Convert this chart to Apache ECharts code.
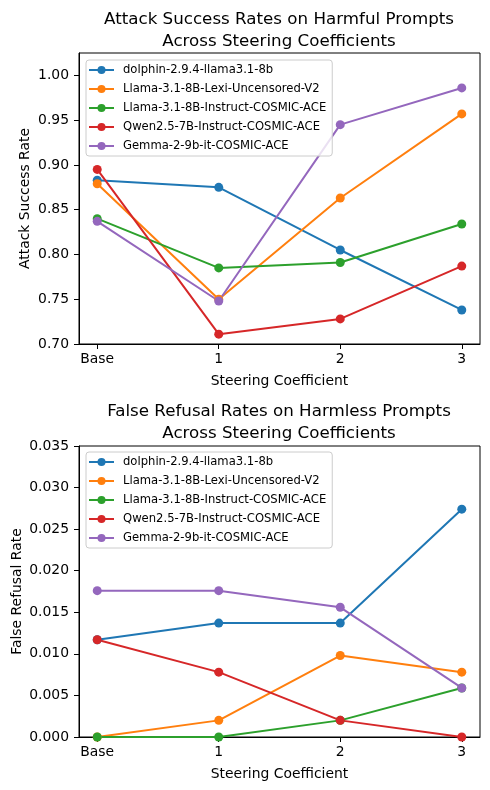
<!DOCTYPE html>
<html>
<head>
<meta charset="utf-8">
<script src="https://cdn.jsdelivr.net/npm/echarts@6/dist/echarts.min.js"></script>
<style>
  html, body { margin: 0; padding: 0; background: #fff; }
  #main { width: 490px; height: 790px; }
</style>
</head>
<body>
<div id="main"></div>
<script>
// categories on the x axis
var categories = ['Base', '1', '2', '3'];
var xPos = [0, 1, 2, 3];

var models = [
  'dolphin-2.9.4-llama3.1-8b',
  'Llama-3.1-8B-Lexi-Uncensored-V2',
  'Llama-3.1-8B-Instruct-COSMIC-ACE',
  'Qwen2.5-7B-Instruct-COSMIC-ACE',
  'Gemma-2-9b-it-COSMIC-ACE'
];
var colors = ['#1f77b4', '#ff7f0e', '#2ca02c', '#d62728', '#9467bd'];

// attack success rate (top plot)
var asrDolphin = [0.883, 0.875, 0.805, 0.738];
var asrLexi    = [0.879, 0.750, 0.863, 0.957];
var asrLlama   = [0.840, 0.785, 0.791, 0.834];
var asrQwen    = [0.895, 0.711, 0.728, 0.787];
var asrGemma   = [0.837, 0.748, 0.945, 0.986];

// false refusal rate (bottom plot)
var frrDolphin = [0.0117, 0.0137, 0.0137, 0.0274];
var frrLexi    = [0.0, 0.0020, 0.0098, 0.0078];
var frrLlama   = [0.0, 0.0, 0.0020, 0.0059];
var frrQwen    = [0.0117, 0.0078, 0.0020, 0.0];
var frrGemma   = [0.0176, 0.0176, 0.0156, 0.0059];

// tick values
var asrTicks = [0.70, 0.75, 0.80, 0.85, 0.90, 0.95, 1.00];
var frrTicks = [0.000, 0.005, 0.010, 0.015, 0.020, 0.025, 0.030, 0.035];

var asrData = [asrDolphin, asrLexi, asrLlama, asrQwen, asrGemma];
var frrData = [frrDolphin, frrLexi, frrLlama, frrQwen, frrGemma];

var font = 'DejaVu Sans';

function pts(vals) {
  return vals.map(function (v, i) { return [xPos[i], v]; });
}

function xAxisFor(idx) {
  return {
    type: 'value', gridIndex: idx, min: -0.15, max: 3.15,
    name: 'Steering Coefficient', nameLocation: 'middle', nameGap: 30,
    nameMoveOverlap: false,
    nameTextStyle: { color: '#000', fontSize: 13.9, fontFamily: font },
    axisLine: { show: true, onZero: false, lineStyle: { color: '#000', width: 1 } },
    axisTick: { show: true, length: 5, lineStyle: { color: '#000' }, customValues: xPos },
    axisLabel: {
      color: '#000', fontSize: 13.9, fontFamily: font, margin: 8,
      customValues: xPos,
      formatter: function (v) { return categories[Math.round(v)]; }
    },
    splitLine: { show: false }
  };
}

function yAxisFor(idx, name, min, max, ticks, digits, gap) {
  return {
    type: 'value', gridIndex: idx, min: min, max: max,
    name: name, nameLocation: 'middle', nameGap: gap,
    nameMoveOverlap: false,
    nameTextStyle: { color: '#000', fontSize: 13.9, fontFamily: font },
    axisLine: { show: true, onZero: false, lineStyle: { color: '#000', width: 1 } },
    axisTick: { show: true, length: 5, lineStyle: { color: '#000' }, customValues: ticks },
    axisLabel: {
      color: '#000', fontSize: 13.9, fontFamily: font, margin: 10,
      customValues: ticks,
      formatter: function (v) { return v.toFixed(digits); }
    },
    splitLine: { show: false }
  };
}

function legendFor(top) {
  return {
    data: models, orient: 'vertical', left: 86, top: top,
    padding: [3, 6, 3, 2], itemGap: 5, itemWidth: 25, itemHeight: 10,
    borderColor: '#cccccc', borderWidth: 1, borderRadius: 3,
    backgroundColor: 'rgba(255,255,255,0.8)',
    textStyle: { color: '#000', fontSize: 11.6, fontFamily: font, lineHeight: 14, padding: [0, 0, 0, 4] }
  };
}

var series = [];
models.forEach(function (m, i) {
  series.push({
    name: m, type: 'line', xAxisIndex: 0, yAxisIndex: 0,
    data: pts(asrData[i]), symbol: 'circle', symbolSize: 9,
    itemStyle: { color: colors[i] }, lineStyle: { color: colors[i], width: 2 },
    animation: false
  });
  series.push({
    name: m, type: 'line', xAxisIndex: 1, yAxisIndex: 1,
    data: pts(frrData[i]), symbol: 'circle', symbolSize: 9,
    itemStyle: { color: colors[i] }, lineStyle: { color: colors[i], width: 2 },
    animation: false
  });
});

var option = {
  backgroundColor: '#fff',
  animation: false,
  color: colors,
  title: [
    {
      text: 'Attack Success Rates on Harmful Prompts\nAcross Steering Coefficients',
      left: 274, top: 4, textAlign: 'center',
      textStyle: { color: '#000', fontSize: 16.7, fontWeight: 'normal', fontFamily: font, lineHeight: 22 }
    },
    {
      text: 'False Refusal Rates on Harmless Prompts\nAcross Steering Coefficients',
      left: 274, top: 396, textAlign: 'center',
      textStyle: { color: '#000', fontSize: 16.7, fontWeight: 'normal', fontFamily: font, lineHeight: 22 }
    }
  ],
  legend: [legendFor(60), legendFor(452)],
  grid: [
    { left: 79, right: 10, top: 53, height: 291, show: true, borderColor: '#000', borderWidth: 1,
      containLabel: false, outerBoundsMode: 'none' },
    { left: 79, right: 10, top: 446, height: 291, show: true, borderColor: '#000', borderWidth: 1,
      containLabel: false, outerBoundsMode: 'none' }
  ],
  xAxis: [xAxisFor(0), xAxisFor(1)],
  yAxis: [
    yAxisFor(0, 'Attack Success Rate', 0.70, 1.025, asrTicks, 2, 47),
    yAxisFor(1, 'False Refusal Rate', 0, 0.035, frrTicks, 3, 55)
  ],
  series: series
};

var myChart = echarts.init(document.getElementById('main'));
myChart.setOption(option);
</script>
</body>
</html>
